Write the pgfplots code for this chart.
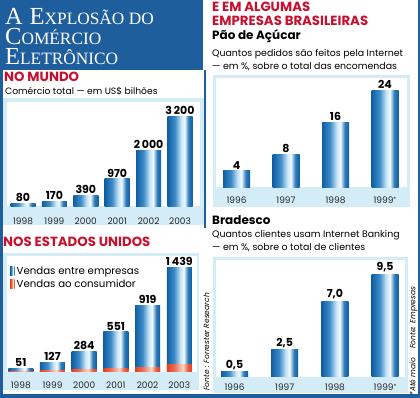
\documentclass[border=0pt]{standalone}
\usepackage{pgfplots}
\pgfplotsset{compat=1.18}
\usepackage{fontspec}
\newfontfamily\fut{Poppins}
\newfontfamily\titlef{Liberation Serif}
\definecolor{tblue}{HTML}{1F5E9C}
\definecolor{panel}{HTML}{D3ECF7}
\definecolor{hred}{HTML}{C8102E}
\definecolor{bdark}{HTML}{0F5EA3}
\definecolor{bmid}{HTML}{3E8CC8}
\definecolor{blight}{HTML}{C6E4F6}
\definecolor{bwhite}{HTML}{F2FAFF}
\definecolor{bedge}{HTML}{2F7DBA}
\definecolor{rdark}{HTML}{E2401F}
\definecolor{rlight}{HTML}{FFD6C8}
\pgfdeclarehorizontalshading{bluecyl}{100bp}{color(0bp)=(bdark); color(25bp)=(bdark); color(40bp)=(bmid); color(52bp)=(blight); color(59bp)=(bwhite); color(67bp)=(bedge); color(75bp)=(bdark); color(100bp)=(bdark)}
\pgfdeclarehorizontalshading{redcyl}{100bp}{color(0bp)=(rdark); color(25bp)=(rdark); color(40bp)=(rdark!70!rlight); color(57bp)=(rlight); color(67bp)=(rdark!80!rlight); color(75bp)=(rdark); color(100bp)=(rdark)}
\newcommand\sca[2]{{\fontsize{24.5}{25}\selectfont #1}{\fontsize{17.3}{17.5}\selectfont #2}}
\pgfplotsset{
  bc/.style={
    scale only axis, ybar, ymin=0, enlarge x limits=false, clip=false,
    axis line style={draw=none}, tick style={draw=none}, ytick=\empty,
    xticklabel style={font=\fut\fontsize{9}{9}\selectfont, text=black!85},
  },
  cyl/.style={draw=none, shading=bluecyl, bar shift=0pt},
  rcyl/.style={draw=none, shading=redcyl, bar shift=0pt},
  lab/.style={nodes near coords, point meta=explicit symbolic,
    every node near coord/.append style={font=\fut\bfseries\fontsize{11}{11}\selectfont, anchor=south, inner sep=1.5pt, text=black}},
}
\tikzset{ttl/.style={anchor=base west, text=white, inner sep=0pt, font=\titlef, text height=16pt, text depth=0pt}}
\begin{document}
\begin{tikzpicture}
\useasboundingbox (0pt,0pt) rectangle (420pt,-398pt);
% panels
\fill[tblue] (0pt,0pt) rectangle (203pt,-70pt);
\fill[panel] (2.7pt,-98pt) rectangle (204pt,-225pt);
\fill[white] (6.7pt,-101.7pt) rectangle (200pt,-206pt);
\fill[panel] (2.7pt,-253.3pt) rectangle (199pt,-390pt);
\fill[white] (6.7pt,-255.7pt) rectangle (196.7pt,-371.7pt);
\fill[panel] (213pt,-75pt) rectangle (410pt,-207pt);
\fill[white] (216pt,-78pt) rectangle (406.7pt,-187pt);
\fill[panel] (213pt,-257pt) rectangle (408pt,-393pt);
\fill[white] (216pt,-260pt) rectangle (405pt,-376.7pt);
% borders
\fill[tblue] (0pt,0pt) rectangle (2.7pt,-398pt);
\fill[tblue] (0pt,-394pt) rectangle (420pt,-398pt);
\fill[tblue] (417.5pt,0pt) rectangle (420pt,-398pt);
\fill[tblue] (203.5pt,-70pt) rectangle (206pt,-228pt);
% title
\node[ttl] at (5pt,-25pt) {\sca{A}{ } \sca{E}{XPLOSÃO DO}};
\node[ttl] at (5pt,-45pt) {\sca{C}{OMÉRCIO}};
\node[ttl] at (5pt,-65pt) {\sca{E}{LETRÔNICO}};
% left texts
\node[anchor=base west, inner sep=0pt, text=hred, font=\fut\bfseries\fontsize{13.3}{14}\selectfont] at (4pt,-82pt) {NO MUNDO};
\node[anchor=base west, inner sep=0pt, font=\fut\fontsize{9.2}{10}\selectfont] at (5pt,-95pt) {Comércio total — em US\$ bilhões};
\node[anchor=base west, inner sep=0pt, text=hred, font=\fut\bfseries\fontsize{13.3}{14}\selectfont] at (3pt,-246pt) {NOS ESTADOS UNIDOS};
% right texts
\node[anchor=base west, inner sep=0pt, text=hred, font=\fut\bfseries\fontsize{13.3}{14}\selectfont] at (212pt,-12pt) {E EM ALGUMAS};
\node[anchor=base west, inner sep=0pt, text=hred, font=\fut\bfseries\fontsize{13.3}{14}\selectfont] at (212pt,-25.5pt) {EMPRESAS BRASILEIRAS};
\node[anchor=base west, inner sep=0pt, font=\fut\bfseries\fontsize{12}{12}\selectfont] at (212pt,-40pt) {Pão de Açúcar};
\node[anchor=base west, inner sep=0pt, font=\fut\fontsize{9.4}{10}\selectfont] at (212pt,-57pt) {Quantos pedidos são feitos pela Internet};
\node[anchor=base west, inner sep=0pt, font=\fut\fontsize{9.4}{10}\selectfont] at (212pt,-70pt) {— em \%, sobre o total das encomendas};
\node[anchor=base west, inner sep=0pt, font=\fut\bfseries\fontsize{12}{12}\selectfont] at (212pt,-224pt) {Bradesco};
\node[anchor=base west, inner sep=0pt, font=\fut\fontsize{9.4}{10}\selectfont] at (212pt,-237pt) {Quantos clientes usam Internet Banking};
\node[anchor=base west, inner sep=0pt, font=\fut\fontsize{9.4}{10}\selectfont] at (212pt,-250pt) {— em \%, sobre o total de clientes};
% sources
\node[rotate=90, inner sep=0pt, font=\fut\itshape\fontsize{7.5}{8}\selectfont] at (206.5pt,-342pt) {Fonte : Forrester Research};
\node[rotate=90, inner sep=0pt, font=\fut\itshape\fontsize{7.5}{8}\selectfont] at (413.5pt,-341pt) {*Até maio\hspace{9pt}Fonte: Empresas};
% Chart 1
\begin{axis}[bc, at={(7.3pt,-206pt)}, anchor=south west, width=188.4pt, height=104.3pt,
  xmin=-0.5, xmax=5.5, ymax=3727, bar width=25pt,
  xtick={0,...,5}, xticklabels={1998,1999,2000,2001,2002,2003},
  xticklabel style={yshift=-4pt}]
\addplot[cyl, lab] coordinates {(0,80) [80]};
\addplot[cyl, lab] coordinates {(1,170) [170]};
\addplot[cyl, lab] coordinates {(2,390) [390]};
\addplot[cyl, lab] coordinates {(3,970) [970]};
\addplot[cyl, lab] coordinates {(4,2000) [2\,000]};
\addplot[cyl, lab] coordinates {(5,3200) [3\,200]};
\end{axis}
% Chart 3
\begin{axis}[bc, at={(4.95pt,-371.7pt)}, anchor=south west, width=190.2pt, height=115.7pt,
  xmin=-0.5, xmax=5.5, ymax=1600, bar width=25pt,
  xtick={0,...,5}, xticklabels={1998,1999,2000,2001,2002,2003},
  xticklabel style={yshift=-2pt},
  legend cell align=left,
  legend style={at={(0.016,0.94)}, anchor=north west, draw=none, fill=white,
    font=\fut\fontsize{10.2}{11}\selectfont, inner xsep=2pt, inner ysep=1.5pt, row sep=0pt},
  legend image code/.code={\path[#1] (0pt,-4.5pt) rectangle (4.5pt,4.5pt);}]
\addplot[cyl, lab] coordinates {(0,51) [51]};
\addlegendentry{Vendas entre empresas}
\addplot[cyl, lab, forget plot] coordinates {(1,127) [127]};
\addplot[cyl, lab, forget plot] coordinates {(2,284) [284]};
\addplot[cyl, lab, forget plot] coordinates {(3,551) [551]};
\addplot[cyl, lab, forget plot] coordinates {(4,919) [919]};
\addplot[cyl, lab, forget plot] coordinates {(5,1439) [1\,439]};
\addplot[rcyl] coordinates {(0,8)};
\addlegendentry{Vendas ao consumidor}
\addplot[rcyl, forget plot] coordinates {(1,18)};
\addplot[rcyl, forget plot] coordinates {(2,33)};
\addplot[rcyl, forget plot] coordinates {(3,48)};
\addplot[rcyl, forget plot] coordinates {(4,65)};
\addplot[rcyl, forget plot] coordinates {(5,100)};
\end{axis}
% Chart 2
\begin{axis}[bc, at={(211.75pt,-187pt)}, anchor=south west, width=198pt, height=107pt,
  xmin=-0.5, xmax=3.5, ymax=26.6, bar width=27pt,
  xtick={0,...,3}, xticklabels={1996,1997,1998,{1999\raisebox{2pt}{\fontsize{6}{6}\selectfont*}}},
  xticklabel style={yshift=-1.7pt}]
\addplot[cyl, lab] coordinates {(0,4) [4]};
\addplot[cyl, lab] coordinates {(1,8) [8]};
\addplot[cyl, lab] coordinates {(2,16) [16]};
\addplot[cyl, lab] coordinates {(3,24) [24]};
\end{axis}
% Chart 4
\begin{axis}[bc, at={(209.4pt,-376.7pt)}, anchor=south west, width=200.8pt, height=116.7pt,
  xmin=-0.5, xmax=3.5, ymax=10.8, bar width=27pt,
  xtick={0,...,3}, xticklabels={1996,1997,1998,{1999\raisebox{2pt}{\fontsize{6}{6}\selectfont*}}},
  xticklabel style={yshift=0.7pt}]
\addplot[cyl, lab] coordinates {(0,0.5) [0{,}5]};
\addplot[cyl, lab] coordinates {(1,2.5) [2{,}5]};
\addplot[cyl, lab] coordinates {(2,7.0) [7{,}0]};
\addplot[cyl, lab] coordinates {(3,9.5) [9{,}5]};
\end{axis}
\end{tikzpicture}
\end{document}
